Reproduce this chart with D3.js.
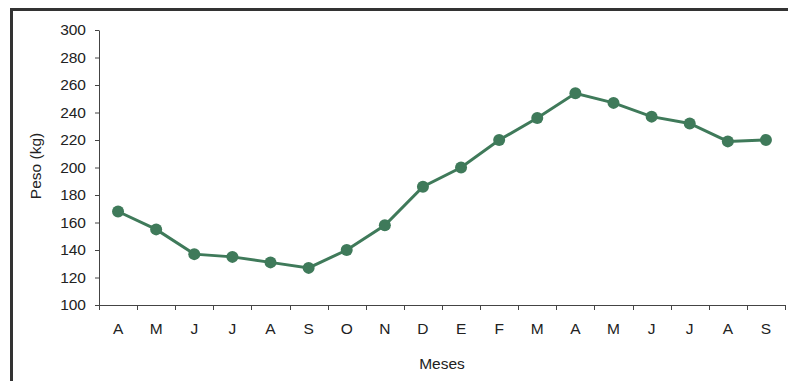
<!DOCTYPE html>
<html><head><meta charset="utf-8">
<script src="https://cdn.jsdelivr.net/npm/d3@7"></script>
<style>body{margin:0;background:#fff}svg{display:block}</style>
</head><body>
<script>
const months = ["A","M","J","J","A","S","O","N","D","E","F","M","A","M","J","J","A","S"];
const peso = [168,155,137,135,131,127,140,158,186,200,220,236,254,247,237,232,219,220];
const yTicks = [100,120,140,160,180,200,220,240,260,280,300];

const W=788,H=381;
const svg=d3.select("body").append("svg").attr("width",W).attr("height",H);
const ml=99, mr=785, mt=30, mb=305;
const x=d3.scaleBand().domain(d3.range(months.length)).range([ml,mr]).padding(0);
const y=d3.scaleLinear().domain([100,300]).range([mb,mt]);

// frame
svg.append("path").attr("d",`M11.5,${H} L11.5,9.5 L${W},9.5`).attr("fill","none").attr("stroke","#333").attr("stroke-width",3);

const font="Liberation Sans, Arial, sans-serif";
const fs=15.5;
const yAxis=svg.append("g").attr("transform",`translate(${ml},0)`)
  .call(d3.axisLeft(y).tickValues(yTicks).tickSize(4).tickPadding(9).tickSizeOuter(0));
yAxis.selectAll("text").attr("font-family",font).attr("font-size",fs).attr("fill","#222");
yAxis.selectAll("line,path").attr("stroke","#444");

const xAxis=svg.append("g").attr("transform",`translate(0,${mb})`)
  .call(d3.axisBottom(x).tickFormat(i=>months[i]).tickSize(0).tickPadding(18));
xAxis.select("path").attr("stroke","#444").attr("d",`M${ml},0.5H${mr}`);
xAxis.selectAll("text").attr("font-family",font).attr("font-size",fs).attr("fill","#222");
// boundary ticks
svg.append("g").selectAll("line").data(d3.range(months.length+1)).join("line")
  .attr("x1",i=>Math.round(ml+i*x.bandwidth())+0.5).attr("x2",i=>Math.round(ml+i*x.bandwidth())+0.5)
  .attr("y1",mb).attr("y2",mb+5).attr("stroke","#444");

svg.append("text").attr("x",442).attr("y",369).attr("text-anchor","middle")
  .attr("font-family",font).attr("font-size",fs).attr("fill","#222").text("Meses");
svg.append("text").attr("transform","translate(41,166) rotate(-90)").attr("text-anchor","middle")
  .attr("font-family",font).attr("font-size",fs).attr("fill","#222").text("Peso (kg)");

const col="#3f7a5a";
const cx=i=>x(i)+x.bandwidth()/2;
svg.append("path").datum(peso).attr("fill","none").attr("stroke",col).attr("stroke-width",3)
  .attr("d",d3.line().x((d,i)=>cx(i)).y(d=>y(d)));
svg.append("g").selectAll("circle").data(peso).join("circle")
  .attr("cx",(d,i)=>cx(i)).attr("cy",d=>y(d)).attr("r",6).attr("fill",col);
</script>
</body></html>
